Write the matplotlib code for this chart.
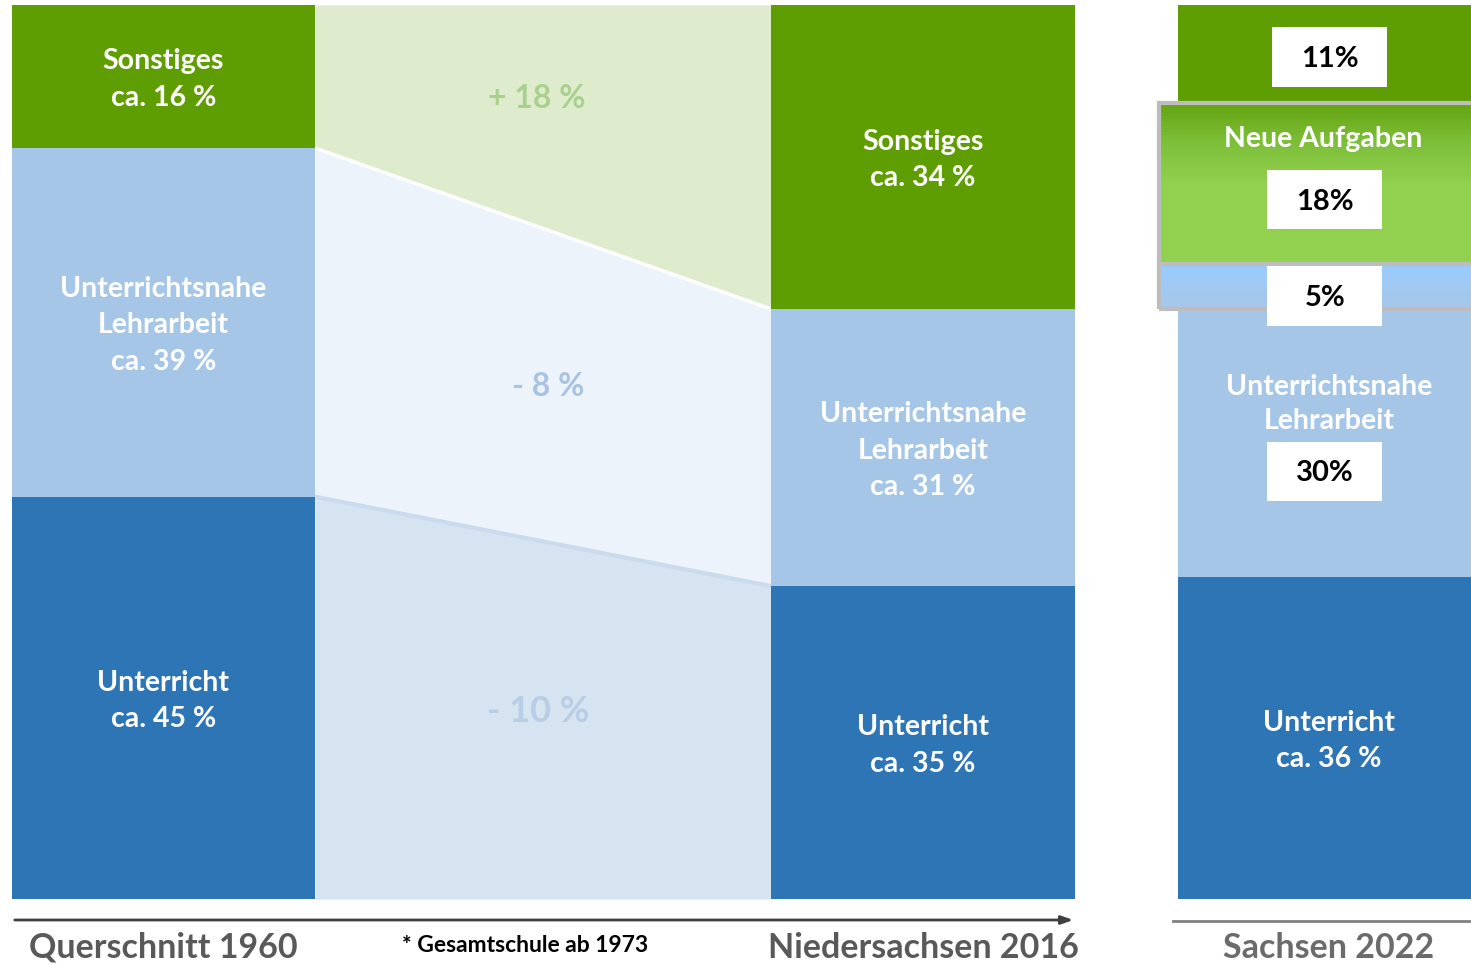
import numpy as np
import matplotlib
matplotlib.use('Agg')
import matplotlib.pyplot as plt
from matplotlib.patches import Rectangle

plt.rcParams['font.family'] = ['Lato', 'DejaVu Sans']

# ── Data ──────────────────────────────────────────────────────────────────
years = ['Querschnitt 1960', 'Niedersachsen 2016', 'Sachsen 2022']
share_1960 = [45, 39, 16]
share_2016 = [35, 31, 34]
labels_hist = ['Unterricht', 'Unterrichtsnahe\nLehrarbeit', 'Sonstiges']
change_labels = ['- 10 %', '- 8 %', '+ 18 %']

share_2022 = [36, 30, 5, 18, 11]
labels_2022 = ['Unterricht\nca. 36 %', 'Unterrichtsnahe\nLehrarbeit', '', 'Neue Aufgaben', '']
boxes_2022 = ['', '30%', '5%', '18%', '11%']
footnote = '* Gesamtschule ab 1973'

# ── Style ─────────────────────────────────────────────────────────────────
DARK = '#2E75B6'
LIGHT = '#A6C6E8'
GREEN = '#5F9E03'
band_colors = ['#D6E3F0', '#ECF3FA', '#DFEBCD']
band_text = ['#B8CDE6', '#A9C3E4', '#A9D18E']
band_fs = [26, 23, 23]
band_dx = [-5, 5, -6]
band_dy = [1.0, -0.2, 2.0]
seg_colors = [DARK, LIGHT, GREEN]
FS = 20.5

PX = 8.94  # pixels per percent
DY = 3 / PX  # small downward nudge for labels


def ypx(p):
    return (899 - p) / PX


fig = plt.figure(figsize=(14.71, 9.64), dpi=100)
ax = fig.add_axes([0, 0, 1, 1])
ax.set_xlim(0, 1471)
ax.set_ylim(ypx(964), ypx(0))
ax.axis('off')

x1, x2, x3 = 163.5, 923, 1329
w1, w2, w3 = 303, 304, 302

# connecting bands 1960 -> 2016
c1 = np.concatenate([[0], np.cumsum(share_1960)])
c2 = np.concatenate([[0], np.cumsum(share_2016)])
bx = np.array([x1 + w1 / 2, x2 - w2 / 2])
for i in range(3):
    lo = np.array([c1[i], c2[i]])
    hi = np.array([c1[i + 1], c2[i + 1]])
    ax.fill_between(bx, lo, hi, color=band_colors[i], lw=0, zorder=1)
    ymid = (lo.mean() + hi.mean()) / 2 + band_dy[i]
    ax.text(bx.mean() + band_dx[i], ymid, change_labels[i],
            ha='center', va='center', fontsize=band_fs[i],
            fontweight='bold', color=band_text[i], zorder=2)
# thin seams between bands
ax.plot(bx, [c1[2], c2[2]], color='white', lw=2.5, zorder=2)
ax.plot(bx, [c1[1], c2[1]], color='#CADBEE', lw=3, zorder=2)

# historic bars
for xc, w, shares in [(x1, w1, share_1960), (x2, w2, share_2016)]:
    bottom = 0
    for s, col, lab in zip(shares, seg_colors, labels_hist):
        ax.bar(xc, s, width=w, bottom=bottom, color=col, lw=0, zorder=3)
        ax.text(xc, bottom + s / 2 - DY, f'{lab}\nca. {s} %', ha='center',
                va='center', color='white', fontsize=FS, fontweight='bold',
                linespacing=1.5, zorder=4)
        bottom += s

# 2022 bar
c3 = np.concatenate([[0], np.cumsum(share_2022)])
seg3 = [DARK, LIGHT, None, None, GREEN]
x3r = x3 + w3 / 2
for i, s in enumerate(share_2022):
    if seg3[i] is not None:
        ax.bar(x3, s, width=w3, bottom=c3[i], color=seg3[i], lw=0, zorder=3)

# gradients for the two framed segments
grad = np.linspace(0, 1, 50)[:, None]
blue_cmap = matplotlib.colors.LinearSegmentedColormap.from_list('b', ['#A8C7E7', '#99CCFF'])
ax.imshow(grad, extent=[1160, x3r, c3[2], c3[3]], origin='lower',
          cmap=blue_cmap, aspect='auto', zorder=3)
green_cmap = matplotlib.colors.LinearSegmentedColormap.from_list(
    'g', ['#92D050', '#92D050', '#92D050', '#7EC03A', '#65A513'])
ax.imshow(grad, extent=[1160, x3r, c3[3], c3[4]], origin='lower',
          cmap=green_cmap, aspect='auto', zorder=3)
# grey frame
ax.add_patch(Rectangle((1159, c3[2]), x3r - 1159, c3[4] - c3[2], fill=False,
                       ec='#BDBDBD', lw=3, zorder=5))
ax.plot([1159, x3r], [c3[3], c3[3]], color='#BDBDBD', lw=3, zorder=5)

# 2022 labels
ax.text(x3, c3[0] + share_2022[0] / 2 - DY, labels_2022[0], ha='center', va='center',
        color='white', fontsize=FS, fontweight='bold', linespacing=1.5, zorder=6)
ax.text(x3, ypx(404), labels_2022[1], ha='center', va='center', color='white',
        fontsize=FS, fontweight='bold', linespacing=1.4, zorder=6)
ax.text(1323, ypx(139), labels_2022[3], ha='center', va='center', color='white',
        fontsize=FS, fontweight='bold', zorder=6)
box_pos = [None, (1325, 471), (1325, 296), (1325, 200), (1330, 57)]
for lab, pos in zip(boxes_2022, box_pos):
    if not lab:
        continue
    xc, yc = pos
    ax.add_patch(Rectangle((xc - 57.5, ypx(yc + 29.5)), 115, 59 / PX,
                           fc='white', ec='none', zorder=6))
    ax.text(xc, ypx(yc + 2), lab, ha='center', va='center', color='black',
            fontsize=21, fontweight='bold', zorder=7)

# time axis
ax.annotate('', xy=(1076, ypx(920)), xytext=(12, ypx(920)),
            arrowprops=dict(arrowstyle='-|>,head_length=0.7,head_width=0.25',
                            color='#404040', lw=2), zorder=6)
ax.plot([1173, 1471], [ypx(921), ypx(921)], color='#808080', lw=2, zorder=6)

for xc, yr, col in zip([x1, x2, x3], years, ['#595959', '#595959', '#6B6B6B']):
    ax.text(xc, ypx(948), yr, ha='center', va='center', color=col,
            fontsize=24.5, fontweight='bold', zorder=6)
ax.text(525, ypx(946), footnote, ha='center', va='center', color='black',
        fontsize=16.5, fontweight='bold', zorder=6)

fig.savefig('out.png', dpi=100)
